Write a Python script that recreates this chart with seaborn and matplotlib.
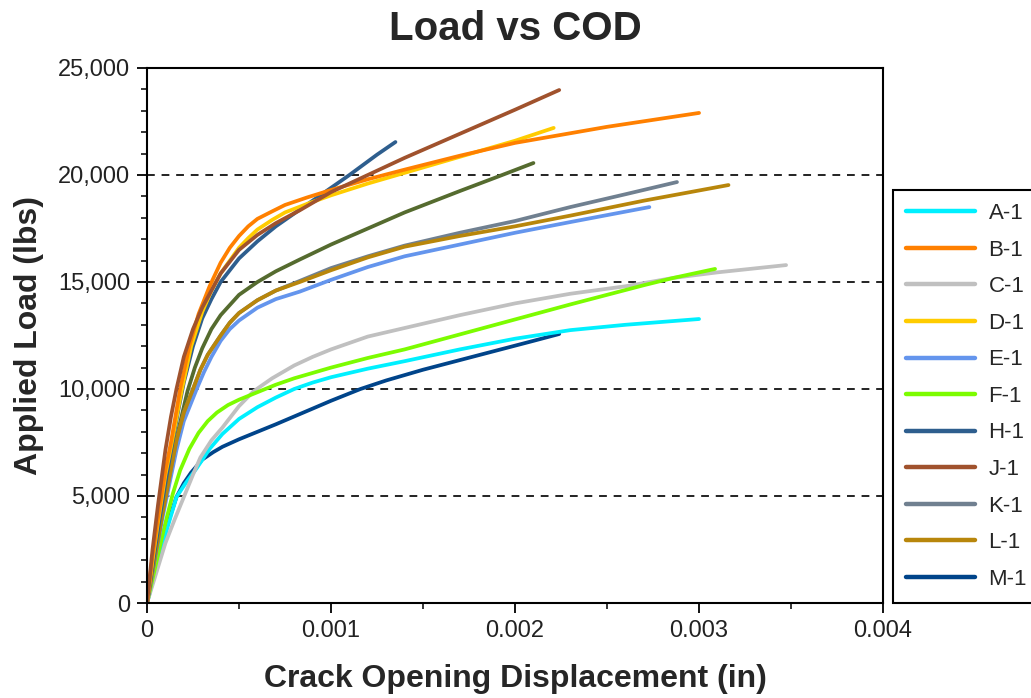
import numpy as np
import pandas as pd
import seaborn as sns
from matplotlib import pyplot as plt
from matplotlib.ticker import MultipleLocator, FuncFormatter

# crack opening displacement (in) / applied load (lbs)
a1_x = [0, 0.00005, 0.0001, 0.00016, 0.00021, 0.00027, 0.00034, 0.00041, 0.0005, 0.0006, 0.0007,
        0.0008, 0.0009, 0.001, 0.0012, 0.0014, 0.0017, 0.002, 0.0023, 0.0026, 0.003]
a1_y = [0, 1600, 3200, 4950, 5600, 6300, 7200, 7900, 8600, 9150, 9600,
        10000, 10300, 10550, 10950, 11300, 11850, 12350, 12750, 13000, 13270]

b1_x = [0, 0.00003, 0.00006, 0.0001, 0.00013, 0.00018, 0.00023, 0.00028, 0.00034, 0.0004, 0.00045,
        0.0005, 0.00055, 0.0006, 0.00068, 0.00075, 0.00087, 0.001, 0.0012, 0.0014, 0.0017,
        0.002, 0.0025, 0.003]
b1_y = [0, 2200, 4000, 6200, 7500, 10000, 12000, 13500, 14800, 15900, 16600,
        17150, 17600, 17950, 18300, 18600, 18950, 19300, 19800, 20250, 20900,
        21500, 22250, 22900]

c1_x = [0, 0.00005, 0.0001, 0.00015, 0.0002, 0.00025, 0.00029, 0.00035, 0.00041, 0.0005, 0.00058,
        0.00068, 0.0008, 0.0009, 0.001, 0.0012, 0.0014, 0.0017, 0.002, 0.0023, 0.0026,
        0.00286, 0.0031, 0.003473]
c1_y = [0, 1400, 2800, 3900, 4950, 6000, 6800, 7600, 8200, 9200, 9900,
        10500, 11100, 11500, 11850, 12450, 12850, 13450, 14000, 14450, 14800,
        15190, 15450, 15790]

d1_x = [0, 0.00003, 0.00006, 0.0001, 0.00013, 0.00019, 0.00024, 0.0003, 0.00035, 0.0004, 0.00045,
        0.0005, 0.00055, 0.0006, 0.00068, 0.00075, 0.00087, 0.001, 0.0012, 0.0014, 0.0017,
        0.002, 0.00221]
d1_y = [0, 2000, 3800, 6000, 7300, 10000, 12000, 13600, 14600, 15400, 16000,
        16600, 17050, 17450, 17900, 18250, 18650, 19050, 19600, 20100, 20850,
        21600, 22200]

e1_x = [0, 0.00004, 0.00008, 0.00012, 0.00016, 0.0002, 0.00027, 0.00031, 0.00035, 0.0004, 0.00045,
        0.0005, 0.0006, 0.0007, 0.00083, 0.001, 0.0012, 0.0014, 0.0017, 0.002, 0.0023, 0.00273]
e1_y = [0, 1900, 3800, 5500, 7150, 8500, 10000, 10800, 11500, 12250, 12800,
        13200, 13800, 14200, 14550, 15100, 15700, 16200, 16750, 17300, 17800, 18500]

f1_x = [0, 0.00004, 0.00009, 0.00014, 0.00018, 0.00023, 0.00028, 0.00033, 0.00038, 0.00044, 0.0005,
        0.0006, 0.0007, 0.0008, 0.0009, 0.001, 0.0012, 0.0014, 0.0017, 0.002, 0.0023,
        0.0027, 0.00286, 0.003087]
f1_y = [0, 1500, 3400, 5100, 6200, 7200, 7950, 8500, 8900, 9250, 9500,
        9850, 10200, 10500, 10750, 11000, 11450, 11850, 12550, 13250, 13950,
        14850, 15190, 15610]

# dark olive curve drawn in the chart but not listed in its legend
g1_x = [0, 0.00004, 0.00007, 0.00011, 0.00015, 0.00019, 0.00022, 0.00026, 0.0003, 0.00035, 0.0004,
        0.0005, 0.0006, 0.0007, 0.00083, 0.001, 0.0012, 0.0014, 0.0017, 0.0019, 0.0021]
g1_y = [0, 2200, 4000, 5800, 7300, 8800, 9900, 11000, 11900, 12800, 13450,
        14400, 15000, 15500, 16050, 16750, 17500, 18250, 19250, 19900, 20560]

h1_x = [0, 0.00004, 0.00007, 0.0001, 0.00014, 0.00017, 0.0002, 0.00025, 0.0003, 0.00035, 0.0004,
        0.0005, 0.0006, 0.0007, 0.0008, 0.0009, 0.001, 0.0011, 0.00125, 0.00135]
h1_y = [0, 2300, 4000, 5600, 7600, 9000, 10300, 12000, 13300, 14200, 15000,
        16100, 16900, 17600, 18200, 18800, 19400, 20000, 20950, 21540]

j1_x = [0, 0.00003, 0.00006, 0.0001, 0.00013, 0.00016, 0.0002, 0.00025, 0.0003, 0.00035, 0.0004,
        0.0005, 0.0006, 0.0007, 0.00083, 0.001, 0.0012, 0.0014, 0.0016, 0.0018, 0.002, 0.00224]
j1_y = [0, 2500, 4600, 7150, 8700, 10000, 11500, 12800, 13800, 14600, 15400,
        16500, 17200, 17750, 18350, 19200, 20000, 20800, 21550, 22300, 23050, 23970]

k1_x = [0, 0.00004, 0.00008, 0.00012, 0.00016, 0.0002, 0.00025, 0.00029, 0.00033, 0.0004, 0.00045,
        0.0005, 0.0006, 0.0007, 0.00083, 0.001, 0.0012, 0.0014, 0.0017, 0.002, 0.0023,
        0.0026, 0.00288]
k1_y = [0, 2000, 4000, 5800, 7600, 8900, 10000, 10900, 11600, 12500, 13100,
        13550, 14150, 14600, 15050, 15650, 16200, 16700, 17300, 17850, 18500,
        19100, 19670]

l1_x = [0, 0.00004, 0.00008, 0.00012, 0.00016, 0.0002, 0.00025, 0.00029, 0.00033, 0.0004, 0.00045,
        0.0005, 0.0006, 0.0007, 0.00083, 0.001, 0.0012, 0.0014, 0.0017, 0.002, 0.0023,
        0.0027, 0.00316]
l1_y = [0, 2000, 4000, 5800, 7600, 8900, 10000, 10900, 11600, 12500, 13100,
        13550, 14150, 14600, 15000, 15550, 16150, 16650, 17150, 17600, 18100,
        18800, 19530]

m1_x = [0, 0.00004, 0.00007, 0.00012, 0.00016, 0.0002, 0.00024, 0.0003, 0.00036, 0.00041, 0.0005,
        0.0006, 0.0007, 0.00085, 0.001, 0.00116, 0.0013, 0.0015, 0.0017, 0.0019, 0.0021, 0.00224]
m1_y = [0, 1400, 2480, 3900, 4950, 5600, 6100, 6700, 7050, 7300, 7650,
        8000, 8350, 8900, 9450, 10000, 10400, 10900, 11350, 11800, 12250, 12570]

series = [
    ("G-1", g1_x, g1_y, "#556B2F", False),
    ("M-1", m1_x, m1_y, "#00448A", True),
    ("A-1", a1_x, a1_y, "#00F0FF", True),
    ("C-1", c1_x, c1_y, "#C0C0C0", True),
    ("F-1", f1_x, f1_y, "#7CFC00", True),
    ("E-1", e1_x, e1_y, "#6495ED", True),
    ("K-1", k1_x, k1_y, "#708090", True),
    ("L-1", l1_x, l1_y, "#B8860B", True),
    ("H-1", h1_x, h1_y, "#2E5E8E", True),
    ("D-1", d1_x, d1_y, "#FFCC00", True),
    ("B-1", b1_x, b1_y, "#FF8000", True),
    ("J-1", j1_x, j1_y, "#A0522D", True),
]
legend_order = ["A-1", "B-1", "C-1", "D-1", "E-1", "F-1", "H-1", "J-1", "K-1", "L-1", "M-1"]

sns.set_theme(style="ticks")
plt.rcParams['font.family'] = ['Liberation Sans', 'DejaVu Sans']

fig = plt.figure(figsize=(10.31, 6.98), dpi=100)
ax = fig.add_axes([0.1426, 0.1361, 0.7139, 0.7665])

handles = {}
for name, xs, ys, col, show in series:
    df = pd.DataFrame({"cod": xs, "load": ys})
    sns.lineplot(data=df, x="cod", y="load", color=col, lw=2.7, sort=False,
                 estimator=None, ax=ax)
    if show:
        handles[name] = plt.Line2D([], [], color=col, lw=3.2)

ax.set_xlim(0, 0.004)
ax.set_ylim(0, 25000)
ax.xaxis.set_major_locator(MultipleLocator(0.001))
ax.xaxis.set_minor_locator(MultipleLocator(0.0005))
ax.yaxis.set_major_locator(MultipleLocator(5000))
ax.yaxis.set_minor_locator(MultipleLocator(1000))
ax.xaxis.set_major_formatter(FuncFormatter(lambda v, p: "0" if v == 0 else f"{v:.3f}"))
ax.yaxis.set_major_formatter(FuncFormatter(lambda v, p: f"{v:,.0f}"))

for yv in [5000, 10000, 15000, 20000]:
    ax.axhline(yv, color="#222222", lw=1.4, ls=(0, (4, 3.5)), zorder=0)

ax.tick_params(axis="both", which="major", length=7, width=1.3, labelsize=17,
               color="black", labelcolor="#222222", pad=5)
ax.tick_params(axis="both", which="minor", length=4, width=1.1, color="black")
for sp in ax.spines.values():
    sp.set_color("black")
    sp.set_linewidth(1.5)

ax.set_xlabel("Crack Opening Displacement (in)", fontsize=23, fontweight="bold", labelpad=16)
ax.set_ylabel("Applied Load (lbs)", fontsize=23, fontweight="bold", labelpad=10)
ax.set_title("Load vs COD", fontsize=29, fontweight="bold", pad=20)

leg = ax.legend([handles[n] for n in legend_order], legend_order,
                loc="lower left", bbox_to_anchor=(1.0136, 0.0), fontsize=16,
                frameon=True, fancybox=False, edgecolor="black", framealpha=1,
                handlelength=3.1, handletextpad=0.6, labelspacing=0.7,
                borderpad=0.6, borderaxespad=0)
leg.get_frame().set_linewidth(1.5)

fig.savefig("out.png", dpi=100)
